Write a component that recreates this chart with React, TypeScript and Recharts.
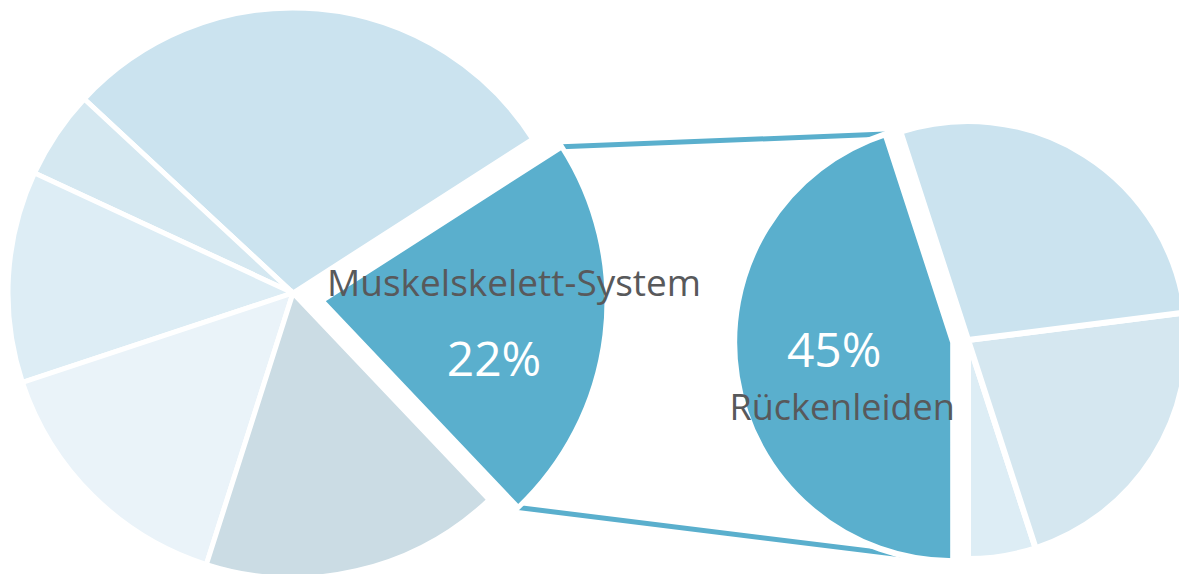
import { PieChart, Pie, Cell, Customized } from 'recharts'

// main pie: share of sick days by diagnosis group
const mainNames = ['Muskelskelett-System', 'Atemwege', 'Verdauung', 'Verletzungen', 'Psyche', 'Sonstige']
const mainValues = [22, 29, 5, 12, 15, 17]
const mainColors = ['#5AAFCD', '#CBE3EF', '#D5E8F1', '#DDEDF5', '#EAF3F9', '#CBDCE4']

// detail pie: breakdown of Muskelskelett-System
const detailNames = ['Rückenleiden', 'Weichteile', 'Arthropathien', 'Sonstige']
const detailValues = [45, 5, 22, 28]
const detailColors = ['#5AAFCD', '#DDEDF5', '#D5E7F0', '#CBE3EF']

const W = 1179
const H = 574
const DARK = '#5AAFCD'
const TEXT = '#58595B'
const FONT = '"Open Sans", "Noto Sans", sans-serif'

// explodeDir: direction the highlighted slice is pulled out (degrees)
const LEFT = { cx: 293, cy: 293, r: 285, start: -46.5, explode: 30, explodeDir: -15 }
const RIGHT = { cx: 968, cy: 340, r: 219, start: 108, explode: 15, explodeDir: 189 }

const mainData = mainNames.map((name, i) => ({ name, value: mainValues[i] }))
const detailData = detailNames.map((name, i) => ({ name, value: detailValues[i] }))

const RAD = Math.PI / 180

function sliceAngles(values: number[], start: number) {
  const total = values.reduce((a, b) => a + b, 0)
  let a = start
  return values.map(v => {
    const a0 = a
    a += (v / total) * 360
    return [a0, a]
  })
}

function polar(cx: number, cy: number, r: number, deg: number) {
  return { x: cx + r * Math.cos(deg * RAD), y: cy - r * Math.sin(deg * RAD) }
}

const mainAngles = sliceAngles(mainValues, LEFT.start)
const detailAngles = sliceAngles(detailValues, RIGHT.start)

const leftEx = polar(LEFT.cx, LEFT.cy, LEFT.explode, LEFT.explodeDir)
const rightEx = polar(RIGHT.cx, RIGHT.cy, RIGHT.explode, RIGHT.explodeDir)

function Connectors() {
  const lt = polar(leftEx.x, leftEx.y, LEFT.r, mainAngles[0][1])
  const lb = polar(leftEx.x, leftEx.y, LEFT.r, mainAngles[0][0])
  const rt = polar(rightEx.x, rightEx.y, RIGHT.r, detailAngles[0][0])
  const rb = polar(rightEx.x, rightEx.y, RIGHT.r, detailAngles[0][1])
  return (
    <g>
      <line x1={lt.x} y1={lt.y} x2={rt.x} y2={rt.y} stroke={DARK} strokeWidth={5} />
      <line x1={lb.x} y1={lb.y} x2={rb.x} y2={rb.y} stroke={DARK} strokeWidth={5} />
    </g>
  )
}

const mainLabel = (p: any) => {
  if (p.index !== 0) return null
  return (
    <g fontFamily={FONT}>
      <text x={p.cx + 5} y={p.cy - 5} fill={TEXT} fontSize={37} textAnchor="start">
        {mainNames[0]}
      </text>
      <text x={p.cx + 172} y={p.cy + 75} fill="#fff" fontSize={48} textAnchor="middle">
        {mainValues[0]}%
      </text>
    </g>
  )
}

const detailLabel = (p: any) => {
  if (p.index !== 0) return null
  return (
    <g fontFamily={FONT}>
      <text x={p.cx - 119} y={p.cy + 25} fill="#fff" fontSize={48} textAnchor="middle">
        {detailValues[0]}%
      </text>
      <text x={p.cx - 111} y={p.cy + 78} fill={TEXT} fontSize={36} textAnchor="middle">
        {detailNames[0]}
      </text>
    </g>
  )
}

export default function App() {
  return (
    <>
      <style>{'body{margin:0}'}</style>
      <PieChart width={W} height={H} margin={{ top: 0, right: 0, bottom: 0, left: 0 }}>
        <Customized component={<Connectors />} />
        <Pie
          data={mainData}
          dataKey="value"
          cx={LEFT.cx}
          cy={LEFT.cy}
          outerRadius={LEFT.r}
          startAngle={LEFT.start}
          endAngle={LEFT.start + 360}
          stroke="#fff"
          strokeWidth={5}
          isAnimationActive={false}
        >
          {mainData.map((d, i) => (
            <Cell key={d.name} fill={i === 0 ? 'none' : mainColors[i]} stroke={i === 0 ? 'none' : '#fff'} />
          ))}
        </Pie>
        <Pie
          data={detailData}
          dataKey="value"
          cx={RIGHT.cx}
          cy={RIGHT.cy}
          outerRadius={RIGHT.r}
          startAngle={RIGHT.start}
          endAngle={RIGHT.start + 360}
          stroke="#fff"
          strokeWidth={6}
          isAnimationActive={false}
        >
          {detailData.map((d, i) => (
            <Cell key={d.name} fill={i === 0 ? 'none' : detailColors[i]} stroke={i === 0 ? 'none' : '#fff'} />
          ))}
        </Pie>
        <Pie
          data={mainData}
          dataKey="value"
          cx={leftEx.x}
          cy={leftEx.y}
          outerRadius={LEFT.r}
          startAngle={LEFT.start}
          endAngle={LEFT.start + 360}
          stroke="#fff"
          strokeWidth={5}
          label={mainLabel}
          labelLine={false}
          isAnimationActive={false}
        >
          {mainData.map((d, i) => (
            <Cell key={d.name} fill={i === 0 ? mainColors[0] : 'none'} stroke={i === 0 ? '#fff' : 'none'} />
          ))}
        </Pie>
        <Pie
          data={detailData}
          dataKey="value"
          cx={rightEx.x}
          cy={rightEx.y}
          outerRadius={RIGHT.r}
          startAngle={RIGHT.start}
          endAngle={RIGHT.start + 360}
          stroke="#fff"
          strokeWidth={6}
          label={detailLabel}
          labelLine={false}
          isAnimationActive={false}
        >
          {detailData.map((d, i) => (
            <Cell key={d.name} fill={i === 0 ? detailColors[0] : 'none'} stroke={i === 0 ? '#fff' : 'none'} />
          ))}
        </Pie>
      </PieChart>
    </>
  )
}
